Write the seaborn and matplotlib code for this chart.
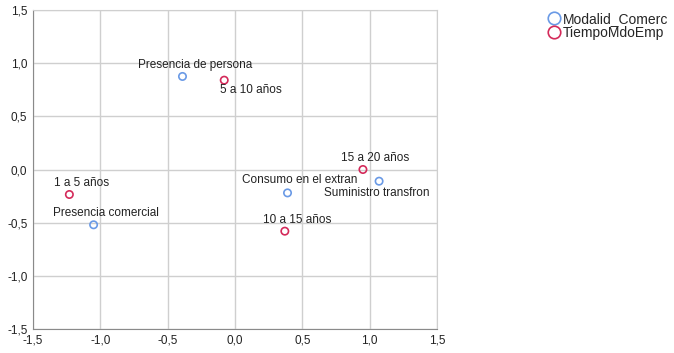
import numpy as np
import pandas as pd
import seaborn as sns
import matplotlib.pyplot as plt
from matplotlib.lines import Line2D
from matplotlib.ticker import FuncFormatter

# puntos de categoria (dimension 1, dimension 2)
modalid_labels = ['Presencia de persona', 'Presencia comercial', 'Consumo en el extran', 'Suministro transfron']
modalid_x = [-0.39, -1.05, 0.39, 1.07]
modalid_y = [0.875, -0.52, -0.22, -0.11]

tiempo_labels = ['5 a 10 años', '1 a 5 años', '10 a 15 años', '15 a 20 años']
tiempo_x = [-0.08, -1.23, 0.37, 0.95]
tiempo_y = [0.84, -0.235, -0.58, 0.0]

ticks = [-1.5, -1.0, -0.5, 0.0, 0.5, 1.0, 1.5]

df = pd.DataFrame({
    'x': modalid_x + tiempo_x,
    'y': modalid_y + tiempo_y,
    'label': modalid_labels + tiempo_labels,
    'var': ['Modalid_Comerc'] * 4 + ['TiempoMdoEmp'] * 4,
})

sns.set_style('white')
plt.rcParams['font.family'] = ['Liberation Sans', 'DejaVu Sans']

colors = {'Modalid_Comerc': '#6a9ae6', 'TiempoMdoEmp': '#d42a5a'}

fig = plt.figure(figsize=(6.74, 3.53), dpi=100)
ax = fig.add_axes([33/674, 1 - 329/353, (437-33)/674, (329-10)/353])

for v, g in df.groupby('var'):
    sns.scatterplot(data=g, x='x', y='y', ax=ax, s=28, marker='o',
                    facecolors='none', edgecolor=colors[v], linewidth=1.2, legend=False)

# posicion de etiquetas (offset en puntos)
offsets = {
    'Presencia de persona': (9, 4, 'center', 'bottom'),
    'Presencia comercial': (9, 4, 'center', 'bottom'),
    'Consumo en el extran': (9, 5, 'center', 'bottom'),
    'Suministro transfron': (-40, -4, 'left', 'top'),
    '5 a 10 años': (-3, -3, 'left', 'top'),
    '1 a 5 años': (9, 4, 'center', 'bottom'),
    '10 a 15 años': (9, 4, 'center', 'bottom'),
    '15 a 20 años': (9, 4, 'center', 'bottom'),
}
for _, r in df.iterrows():
    dx, dy, ha, va = offsets[r['label']]
    ax.annotate(r['label'], (r['x'], r['y']), xytext=(dx, dy), textcoords='offset points',
                ha=ha, va=va, fontsize=8.5, color='#222222')

ax.set_xlim(-1.5, 1.5)
ax.set_ylim(-1.5, 1.5)
ax.set_xticks(ticks)
ax.set_yticks(ticks)
fmt = FuncFormatter(lambda v, p: f'{v:.1f}'.replace('.', ','))
ax.xaxis.set_major_formatter(fmt)
ax.yaxis.set_major_formatter(fmt)
ax.tick_params(labelsize=8.5, colors='#222222', length=0)
ax.tick_params(axis='x', pad=4)
ax.tick_params(axis='y', pad=4)
ax.grid(True, color='#cfcfcf', linewidth=1)
ax.set_xlabel('')
ax.set_ylabel('')
for s in ['top', 'right']:
    ax.spines[s].set_color('#cfcfcf')
for s in ['left', 'bottom']:
    ax.spines[s].set_color('#8a8a8a')

handles = [Line2D([], [], marker='o', linestyle='none', markerfacecolor='none',
                  markeredgecolor=colors[k], markersize=9, markeredgewidth=1.2, label=k)
           for k in colors]
fig.legend(handles=handles, loc='upper left', bbox_to_anchor=(541/674, 1 - 6/353),
           frameon=False, fontsize=10, handletextpad=0.2, labelspacing=0.05,
           handlelength=1.0, borderaxespad=0)

fig.savefig('out.png', dpi=100)
